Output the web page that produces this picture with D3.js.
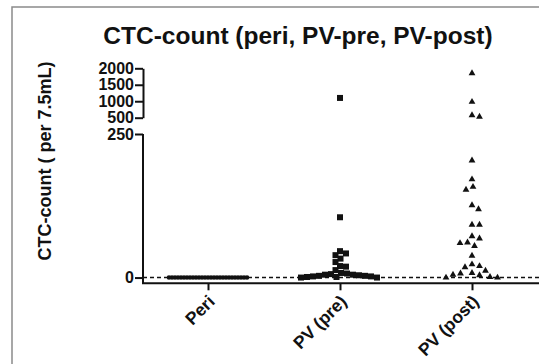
<!DOCTYPE html>
<html><head><meta charset="utf-8">
<script src="https://cdn.jsdelivr.net/npm/d3@7"></script>
<style>html,body{margin:0;padding:0;background:#fff;}svg{display:block;}</style>
</head><body>
<script>
const categories = ["Peri", "PV (pre)", "PV (post)"];
const periValues = [0,0,0,0,0,0,0,0,0,0,0,0,0,0,0,0,0,0,0,0,0,0,0,0,0,0,0];
const preValues = [1100,105,46,42,39,33,27,20,19,13,8,7,6,5,5,4,3,3,2,2,1,1,0,0];
const postValues = [1850,980,575,530,204,171,158,153,126,119,92,92,72,68,61,60,55,38,23,20,18,12,8,7,5,4,1,0,0];
const lowerTicks = [0, 250];
const upperTicks = [500, 1000, 1500, 2000];
const title = "CTC-count (peri, PV-pre, PV-post)";
const yTitle = "CTC-count ( per 7.5mL)";

const W = 539, H = 364;
const svg = d3.select("body").append("svg").attr("width", W).attr("height", H);
svg.append("rect").attr("x",12).attr("y",7).attr("width",W).attr("height",H).attr("fill","#fff").attr("stroke","#8a8a8a").attr("stroke-width",1.5);

const axisX = 143;
const x = d3.scalePoint().domain(categories).range([208, 472]);
const yLow = d3.scaleLinear().domain([-10, 250]).range([283.3, 134]);
const yUp = d3.scaleLinear().domain([500, 2000]).range([117.7, 68.3]);
const yv = v => v > 250 ? yUp(v) : yLow(v);

const font = "Arial, 'Liberation Sans', Helvetica, sans-serif";

// title
svg.append("text").attr("x", 298).attr("y", 44).attr("text-anchor","middle")
  .attr("font-family", font).attr("font-weight","bold").attr("font-size", 24.5).attr("fill","#111").text(title);
// y title
svg.append("text").attr("transform","translate(51,161) rotate(-90)").attr("text-anchor","middle")
  .attr("font-family", font).attr("font-weight","bold").attr("font-size", 18).attr("fill","#111").text(yTitle);

// zero dashed line
svg.append("line").attr("x1", axisX).attr("x2", W).attr("y1", yLow(0)).attr("y2", yLow(0))
  .attr("stroke","#111").attr("stroke-width",1.6).attr("stroke-dasharray","4,3");

// axes
function styleAxis(g){
  g.selectAll("path,line").attr("stroke","#111").attr("stroke-width",2);
  g.selectAll("text").attr("font-family", font).attr("font-weight","bold").attr("font-size",16).attr("fill","#111");
}
const gLow = svg.append("g").attr("transform",`translate(${axisX},0)`)
  .call(d3.axisLeft(yLow).tickValues(lowerTicks).tickSize(8).tickSizeOuter(0).tickPadding(1).tickFormat(d3.format("d")));
styleAxis(gLow);
gLow.select("path.domain").attr("d", `M0,${yLow(250)}V${yLow(-10)}`);
const gUp = svg.append("g").attr("transform",`translate(${axisX},0)`)
  .call(d3.axisLeft(yUp).tickValues(upperTicks).tickSize(8).tickSizeOuter(0).tickPadding(1).tickFormat(d3.format("d")));
styleAxis(gUp);

const gx = svg.append("g").attr("transform",`translate(0,${yLow(-10)})`)
  .call(d3.axisBottom(x).tickSize(7).tickSizeOuter(0).tickFormat(""));
gx.select("path.domain").attr("d", `M${axisX-1},0H${W}`);
gx.selectAll("path,line").attr("stroke","#111").attr("stroke-width",2);
gx.selectAll(".tick").append("text")
  .attr("transform","translate(3,15) rotate(-45)")
  .attr("text-anchor","end").attr("font-family",font).attr("font-weight","bold").attr("font-size",17.5).attr("fill","#111")
  .attr("dy","0.35em")
  .text(d => d);

// beeswarm layout
function swarm(vals, d, step){
  const pts = vals.map(v => ({v, y: yv(v)})).sort((a,b)=>b.v-a.v);
  const placed = [];
  for (const p of pts){
    for (let k=0;;k++){
      const off = k===0 ? 0 : (k%2===1 ? 1 : -1) * Math.ceil(k/2) * step;
      if (placed.every(q => (q.dx-off)**2 + (q.y-p.y)**2 >= d*d)) { p.dx = off; break; }
    }
    placed.push(p);
  }
  return placed;
}

const periPts = swarm(periValues, 3, 0.5);
svg.append("g").selectAll("circle").data(periPts).join("circle")
  .attr("cx", d => x("Peri") + d.dx).attr("cy", d => d.y).attr("r", 2.3).attr("fill","#111");

const prePts = swarm(preValues, 6, 0.5);
svg.append("g").selectAll("rect").data(prePts).join("rect")
  .attr("x", d => x("PV (pre)") + d.dx - 3).attr("y", d => d.y - 3)
  .attr("width", 6).attr("height", 6).attr("fill","#111");

const postPts = swarm(postValues, 7.5, 0.5);
const tri = d3.symbol().type(d3.symbolTriangle).size(20);
svg.append("g").selectAll("path").data(postPts).join("path")
  .attr("transform", d => `translate(${x("PV (post)") + d.dx},${d.y})`)
  .attr("d", tri).attr("fill","#111");
</script>
</body></html>
